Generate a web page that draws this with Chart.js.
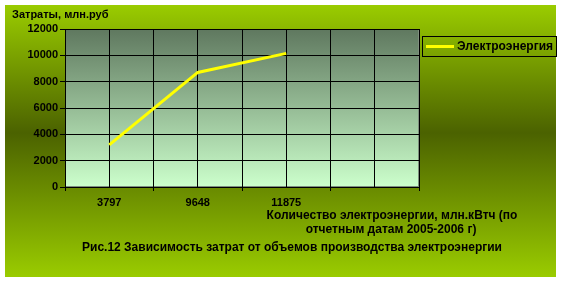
<!DOCTYPE html>
<html>
<head>
<meta charset="utf-8">
<script src="https://cdn.jsdelivr.net/npm/chart.js@4"></script>
<style>
  body { margin: 0; background: #ffffff; }
  canvas { display: block; }
</style>
</head>
<body>
<canvas id="chart" width="562" height="283"></canvas>
<script>
// Chart data
const categories = ["3797", "9648", "11875", ""];
const seriesName = "Электроэнергия";
const costValues = [3200, 8700, 10150];
const yTitle = "Затраты, млн.руб";
const xTitleLines = ["Количество электроэнергии, млн.кВтч (по", "отчетным датам 2005-2006 г)"];
const caption = "Рис.12 Зависимость затрат от объемов производства электроэнергии";

const FAMILY = "'Liberation Sans', Arial, sans-serif";

// Backgrounds, titles and legend
const decor = {
  id: "decor",
  beforeDraw(chart) {
    const ctx = chart.ctx;
    const area = chart.chartArea;
    ctx.save();
    ctx.fillStyle = "#ffffff";
    ctx.fillRect(0, 0, chart.width, chart.height);

    const bg = ctx.createLinearGradient(0, 5, 0, 277);
    bg.addColorStop(0, "#9acc00");
    bg.addColorStop(0.47, "#4b6200");
    bg.addColorStop(1, "#9acc00");
    ctx.fillStyle = bg;
    ctx.fillRect(5, 5, 551, 272);

    const pg = ctx.createLinearGradient(0, area.top, 0, area.bottom);
    pg.addColorStop(0, "#5f785f");
    pg.addColorStop(1, "#ccffcc");
    ctx.fillStyle = pg;
    ctx.fillRect(area.left, area.top, area.right - area.left, area.bottom - area.top);

    ctx.strokeStyle = "#7f8f7f";
    ctx.lineWidth = 1;
    ctx.strokeRect(area.left + 0.5, area.top + 0.5, area.right - area.left - 1, area.bottom - area.top - 1);
    ctx.restore();
  },
  afterDraw(chart) {
    const ctx = chart.ctx;
    const ds = chart.data.datasets[0];
    ctx.save();
    ctx.fillStyle = "#000000";
    ctx.textBaseline = "middle";

    ctx.font = "bold 11px " + FAMILY;
    ctx.textAlign = "left";
    ctx.fillText(yTitle, 12, 15);

    ctx.font = "bold 12px " + FAMILY;
    ctx.textAlign = "center";
    ctx.fillText(xTitleLines[0], 392, 216);
    ctx.fillText(xTitleLines[1], 391, 230);
    ctx.fillText(caption, 292, 248);

    // legend
    ctx.strokeStyle = "#000000";
    ctx.lineWidth = 1;
    ctx.strokeRect(422.5, 36.5, 134, 20);
    ctx.strokeStyle = ds.borderColor;
    ctx.lineWidth = 3;
    ctx.beginPath();
    ctx.moveTo(426, 46.5);
    ctx.lineTo(454, 46.5);
    ctx.stroke();
    ctx.textAlign = "left";
    ctx.fillStyle = "#000000";
    ctx.fillText(ds.label, 457, 47);
    ctx.restore();
  }
};

const ctx = document.getElementById("chart").getContext("2d");

const chart = new Chart(ctx, {
  type: "line",
  data: {
    labels: categories,
    datasets: [
      {
        label: seriesName,
        data: costValues,
        xAxisID: "x",
        borderColor: "#ffff00",
        borderWidth: 3,
        pointRadius: 0,
        tension: 0
      }
    ]
  },
  options: {
    responsive: false,
    animation: false,
    devicePixelRatio: 1,
    layout: {
      padding: { left: 5, top: 29, right: 143, bottom: 76 }
    },
    plugins: {
      legend: { display: false },
      tooltip: { enabled: false }
    },
    scales: {
      x: {
        type: "category",
        position: "bottom",
        offset: true,
        grid: { offset: true, color: "#000000", lineWidth: 1, tickLength: 4 },
        border: { color: "#000000", width: 1 },
        ticks: { color: "#000000", font: { family: FAMILY, size: 11, weight: "bold" }, padding: 5, maxRotation: 0 },
        afterFit(scale) { scale.height = 20; }
      },
      x2: {
        type: "category",
        position: "bottom",
        labels: categories,
        offset: true,
        grid: { offset: false, color: "#000000", lineWidth: 1, drawTicks: false },
        border: { display: false },
        ticks: { display: false },
        afterFit(scale) { scale.height = 0; }
      },
      y: {
        min: 0,
        max: 12000,
        grid: { color: "#000000", lineWidth: 1, tickLength: 5 },
        border: { color: "#000000", width: 1 },
        ticks: {
          stepSize: 2000,
          color: "#000000",
          padding: 2,
          font: { family: FAMILY, size: 11, weight: "bold" },
          callback: (v) => String(v)
        },
        afterFit(scale) { scale.width = 60; }
      }
    }
  },
  plugins: [decor]
});
</script>
</body>
</html>
